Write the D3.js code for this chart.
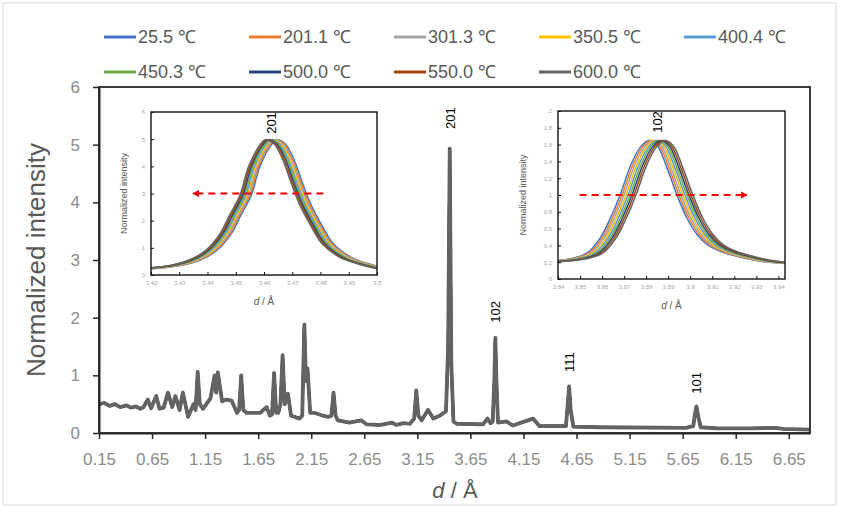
<!DOCTYPE html>
<html>
<head>
<meta charset="utf-8">
<script src="https://cdn.jsdelivr.net/npm/d3@7"></script>
<style>
  body { margin: 0; background: #fff; }
  text { font-family: "Liberation Sans", Arial, sans-serif; }
</style>
</head>
<body>
<svg id="chart" width="841" height="506"></svg>
<script>
// ---- data ----
const seriesNames = ["25.5 ℃", "201.1 ℃", "301.3 ℃", "350.5 ℃", "400.4 ℃",
  "450.3 ℃", "500.0 ℃", "550.0 ℃", "600.0 ℃"];
const seriesColors = ["#4472C4", "#ED7D31", "#A5A5A5", "#FFC000", "#5B9BD5",
  "#70AD47", "#264478", "#9E480E", "#636363"];

const xTickLabels = ["0.15", "0.65", "1.15", "1.65", "2.15", "2.65", "3.15",
  "3.65", "4.15", "4.65", "5.15", "5.65", "6.15", "6.65"];
const yTicks = [0, 1, 2, 3, 4, 5, 6];

// main pattern (all temperatures overlap at this scale)
const mainD = [0.15, 0.2, 0.25, 0.3, 0.35, 0.41, 0.45, 0.5, 0.54, 0.57, 0.61, 0.64, 0.69, 0.72,
  0.76, 0.8, 0.84, 0.87, 0.91, 0.94, 0.99, 1.04, 1.06, 1.08, 1.1, 1.13, 1.2, 1.24, 1.255,
  1.27, 1.31, 1.35, 1.4, 1.45, 1.47, 1.49, 1.51, 1.54, 1.67, 1.73, 1.76, 1.78, 1.8, 1.82,
  1.84, 1.86, 1.88, 1.9, 1.91, 1.93, 1.96, 2.04, 2.065, 2.085, 2.1, 2.115, 2.14, 2.18, 2.26,
  2.31, 2.34, 2.36, 2.38, 2.4, 2.51, 2.62, 2.67, 2.8, 2.91, 2.95, 3.02, 3.08, 3.12, 3.14,
  3.16, 3.19, 3.25, 3.3, 3.36, 3.42, 3.44, 3.455, 3.47, 3.49, 3.52, 3.77, 3.81, 3.84, 3.86,
  3.875, 3.885, 3.895, 3.91, 3.99, 4.05, 4.24, 4.3, 4.55, 4.565, 4.58, 4.595, 4.62, 4.87,
  5.68, 5.75, 5.765, 5.78, 5.795, 5.82, 5.97, 6.3, 6.52, 6.6, 6.85];
const mainI = [0.5, 0.52, 0.47, 0.5, 0.45, 0.48, 0.44, 0.46, 0.42, 0.45, 0.58, 0.43, 0.64, 0.42,
  0.44, 0.7, 0.45, 0.64, 0.4, 0.7, 0.28, 0.5, 0.4, 1.06, 0.5, 0.42, 0.6, 1.0, 0.7,
  1.05, 0.55, 0.58, 0.56, 0.35, 0.4, 1.0, 0.4, 0.35, 0.35, 0.45, 0.3, 0.32, 1.04, 0.35,
  0.35, 0.5, 1.35, 0.5, 0.55, 0.68, 0.3, 0.25, 0.3, 1.88, 0.9, 1.12, 0.35, 0.35, 0.3,
  0.28, 0.3, 0.7, 0.3, 0.22, 0.18, 0.22, 0.15, 0.14, 0.18, 0.14, 0.17, 0.16, 0.25, 0.74,
  0.3, 0.22, 0.4, 0.25, 0.3, 0.38, 1.5, 4.93, 1.2, 0.2, 0.16, 0.15, 0.25, 0.17, 0.2,
  0.9, 1.65, 0.9, 0.18, 0.2, 0.13, 0.25, 0.12, 0.12, 0.45, 0.81, 0.4, 0.11, 0.1,
  0.09, 0.12, 0.32, 0.46, 0.3, 0.1, 0.08, 0.08, 0.09, 0.07, 0.06];

const peakNames = ["201", "102", "111", "101"];
const peakD = [3.455, 3.885, 4.575, 5.78];
const peakLabelI = [5.46, 2.1, 1.23, 0.87];

// inset: 201 reflection
const inset201Ticks = ["3.42", "3.43", "3.44", "3.45", "3.46", "3.47", "3.48", "3.49", "3.5"];
const inset201YTicks = ["0", "1", "2", "3", "4", "5", "6"];
const inset201Dx = [-0.05, -0.042, -0.033, -0.027, -0.021, -0.016, -0.013, -0.009, -0.006,
  -0.002, 0, 0.003, 0.006, 0.009, 0.012, 0.016, 0.02, 0.026, 0.032, 0.038, 0.046];
const inset201I = [0.2, 0.25, 0.37, 0.55, 0.92, 1.53, 2.14, 2.94, 3.98,
  4.78, 4.98, 4.83, 4.28, 3.42, 2.62, 1.83, 1.16, 0.67, 0.43, 0.27, 0.22];
const inset201Centre = [3.4645, 3.464, 3.4635, 3.463, 3.4625, 3.462, 3.4615, 3.461, 3.4605];

// inset: 102 reflection
const inset102Ticks = ["3.84", "3.85", "3.86", "3.87", "3.88", "3.89", "3.9", "3.91", "3.92", "3.93", "3.94"];
const inset102YTicks = ["0", "0.2", "0.4", "0.6", "0.8", "1", "1.2", "1.4", "1.6", "1.8", "2"];
const inset102Dx = [-0.06, -0.0452, -0.0357, -0.028, -0.022, -0.0175, -0.013, -0.0084, -0.0038,
  0, 0.0038, 0.0083, 0.0128, 0.0174, 0.0219, 0.0265, 0.0325, 0.04, 0.051, 0.065];
const inset102I = [0.19, 0.21, 0.24, 0.31, 0.49, 0.72, 1.0, 1.34, 1.57,
  1.65, 1.59, 1.32, 1.0, 0.72, 0.53, 0.41, 0.33, 0.27, 0.21, 0.18];
const inset102Centre = [3.8812, 3.8821, 3.883, 3.8839, 3.8848, 3.8857, 3.8866, 3.8875, 3.8884];

// ---- drawing ----
const svg = d3.select("#chart");

svg.append("rect")
  .attr("x", 3).attr("y", 3).attr("width", 833).attr("height", 502)
  .attr("fill", "#fff").attr("stroke", "#d9d9d9");

const x = d3.scaleLinear().domain([0.15, 6.85]).range([99, 810]);
const y = d3.scaleLinear().domain([0, 6]).range([433, 87]);

const mainPts = mainD.map((d, i) => [d, mainI[i]]);
const mainLine = d3.line().x((p) => x(p[0])).y((p) => y(p[1]));

seriesNames.forEach((name, s) => {
  svg.append("path")
    .datum(mainPts)
    .attr("fill", "none")
    .attr("stroke", seriesColors[s])
    .attr("stroke-width", s === seriesNames.length - 1 ? 3.8 : 2.6)
    .attr("stroke-linejoin", "round")
    .attr("d", mainLine);
});

// frame
svg.append("rect")
  .attr("x", 99).attr("y", 87).attr("width", 711).attr("height", 346)
  .attr("fill", "none").attr("stroke", "#262626").attr("stroke-width", 1.8);

const xAxis = svg.append("g")
  .attr("transform", "translate(0,433)")
  .call(d3.axisBottom(x)
    .tickValues(xTickLabels.map(Number))
    .tickFormat((d, i) => xTickLabels[i])
    .tickSize(6).tickSizeOuter(0).tickPadding(14));

const yAxis = svg.append("g")
  .attr("transform", "translate(99,0)")
  .call(d3.axisLeft(y).tickValues(yTicks).tickFormat(d3.format("d"))
    .tickSize(6).tickSizeOuter(0).tickPadding(13));

[xAxis, yAxis].forEach((g) => {
  g.select(".domain").attr("stroke", "#262626").attr("stroke-width", 2);
  g.selectAll(".tick line").attr("stroke", "#262626").attr("stroke-width", 1.5);
  g.selectAll(".tick text").attr("fill", "#8c8c8c").style("font-size", "17px");
});

svg.append("text")
  .attr("transform", "translate(45,260) rotate(-90)")
  .attr("text-anchor", "middle")
  .attr("fill", "#595959")
  .style("font-size", "26px")
  .text("Normalized intensity");

const xl = svg.append("text")
  .attr("x", 455).attr("y", 498)
  .attr("text-anchor", "middle")
  .attr("fill", "#595959")
  .style("font-size", "22px");
xl.append("tspan").style("font-style", "italic").text("d");
xl.append("tspan").text(" / Å");

// peak labels
peakNames.forEach((p, i) => {
  svg.append("text")
    .attr("transform", `translate(${x(peakD[i]) + 5},${y(peakLabelI[i])}) rotate(-90)`)
    .attr("text-anchor", "middle")
    .attr("fill", "#000")
    .style("font-size", "13px")
    .text(p);
});

// legend
seriesNames.forEach((name, s) => {
  const row = s < 5 ? 0 : 1;
  const col = s < 5 ? s : s - 5;
  const lx = 104 + col * 145;
  const ly = row === 0 ? 37 : 72;
  svg.append("line")
    .attr("x1", lx).attr("x2", lx + 32).attr("y1", ly).attr("y2", ly)
    .attr("stroke", seriesColors[s]).attr("stroke-width", 3);
  svg.append("text")
    .attr("x", lx + 34).attr("y", ly + 6)
    .attr("fill", "#595959")
    .style("font-size", "18px")
    .text(name);
});

// insets
svg.append("defs").html(`
  <marker id="arrowRed" viewBox="0 0 10 10" refX="8" refY="5" markerWidth="4" markerHeight="4" orient="auto-start-reverse">
    <path d="M0,0 L10,5 L0,10 z" fill="#ff0000"/>
  </marker>`);

function drawInset(box, xDomain, yDomain, xTicks, yTicksIn, dx, vals, centres, label, arrowFrom, arrowTo, arrowI, yLabelOff, id) {
  const ix = d3.scaleLinear().domain(xDomain).range([box.x, box.x + box.w]);
  const iy = d3.scaleLinear().domain(yDomain).range([box.y + box.h, box.y]);
  const g = svg.append("g");

  g.append("clipPath").attr("id", id)
    .append("rect").attr("x", box.x).attr("y", box.y).attr("width", box.w).attr("height", box.h);

  const line = d3.line().curve(d3.curveCatmullRom)
    .x((p) => ix(p[0])).y((p) => iy(p[1]));

  centres.forEach((c, s) => {
    g.append("path")
      .datum(dx.map((d, i) => [c + d, vals[i]]))
      .attr("clip-path", `url(#${id})`)
      .attr("fill", "none")
      .attr("stroke", seriesColors[s])
      .attr("stroke-width", 1.5)
      .attr("d", line);
  });

  g.append("rect")
    .attr("x", box.x).attr("y", box.y).attr("width", box.w).attr("height", box.h)
    .attr("fill", "none").attr("stroke", "#111").attr("stroke-width", 1.4);

  const ax = g.append("g").attr("transform", `translate(0,${box.y + box.h})`)
    .call(d3.axisBottom(ix).tickValues(xTicks.map(Number))
      .tickFormat((d, i) => xTicks[i]).tickSize(-3).tickSizeOuter(0).tickPadding(6));
  const ay = g.append("g").attr("transform", `translate(${box.x},0)`)
    .call(d3.axisLeft(iy).tickValues(yTicksIn.map(Number))
      .tickFormat((d, i) => yTicksIn[i]).tickSize(-3).tickSizeOuter(0).tickPadding(6));
  [ax, ay].forEach((a) => {
    a.select(".domain").remove();
    a.selectAll(".tick line").attr("stroke", "#111");
    a.selectAll(".tick text").attr("fill", "#a6a6a6").style("font-size", "6px");
  });

  g.append("text")
    .attr("transform", `translate(${box.x - yLabelOff},${box.y + box.h / 2}) rotate(-90)`)
    .attr("text-anchor", "middle").attr("fill", "#595959")
    .style("font-size", "9px").text("Normalized intensity");
  const t = g.append("text")
    .attr("x", box.x + box.w / 2).attr("y", box.y + box.h + 30)
    .attr("text-anchor", "middle").attr("fill", "#595959")
    .style("font-size", "10px");
  t.append("tspan").style("font-style", "italic").text("d");
  t.append("tspan").text(" / Å");

  const mid = d3.mean(centres);
  g.append("text")
    .attr("transform", `translate(${ix(mid) + 5},${box.y + 11}) rotate(-90)`)
    .attr("text-anchor", "middle").attr("fill", "#000")
    .style("font-size", "13px").text(label);

  g.append("line")
    .attr("x1", ix(arrowFrom)).attr("x2", ix(arrowTo))
    .attr("y1", iy(arrowI)).attr("y2", iy(arrowI))
    .attr("stroke", "#ff0000").attr("stroke-width", 1.8)
    .attr("stroke-dasharray", "7,5")
    .attr("marker-end", "url(#arrowRed)");
}

drawInset({ x: 151, y: 112, w: 226, h: 163 }, [3.42, 3.5], [0, 6],
  inset201Ticks, inset201YTicks, inset201Dx, inset201I, inset201Centre,
  "201", 3.481, 3.435, 3, 24, "clip201");

drawInset({ x: 558, y: 111, w: 227, h: 168 }, [3.84, 3.943], [0, 2],
  inset102Ticks, inset102YTicks, inset102Dx, inset102I, inset102Centre,
  "102", 3.8498, 3.9255, 1, 32, "clip102");
</script>
</body>
</html>
